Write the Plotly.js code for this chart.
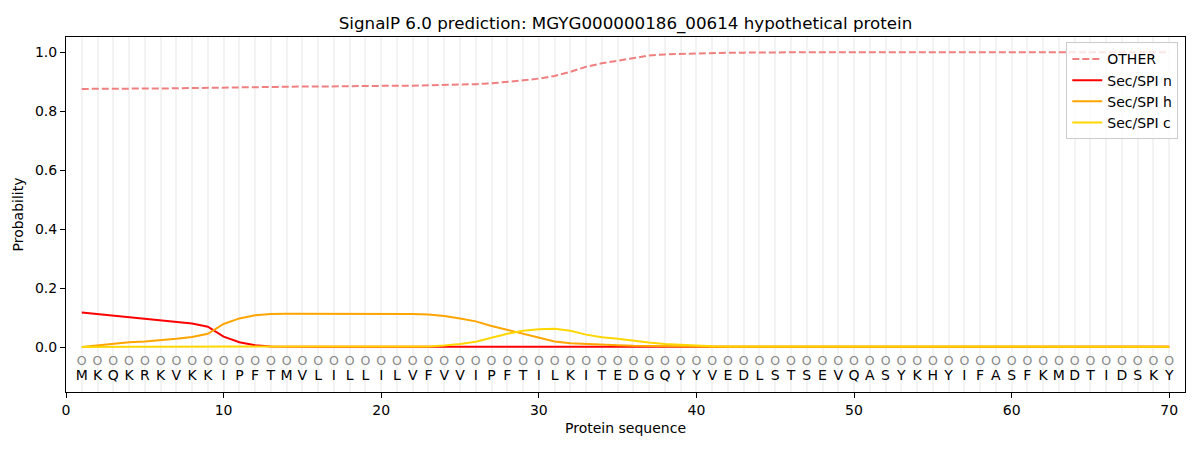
<!DOCTYPE html>
<html>
<head>
<meta charset="utf-8">
<script src="https://cdn.plot.ly/plotly-3.0.1.min.js"></script>
<style>
  html, body { margin: 0; padding: 0; background: #fff; }
  #chart { width: 1200px; height: 450px; }
</style>
</head>
<body>
<div id="chart"></div>
<script>
// residues of the protein, one per position 1..70
const sequence = "MKQKRKVKKIPFTMVLILLILVFVVIPFTILKITEDGQYYVEDLSTSEVQASYKHYIFASFKMDTIDSKY".split("");
const positions = sequence.map((_, i) => i + 1);

// per-residue class probabilities
const other = [
  0.875, 0.875, 0.875, 0.876, 0.876, 0.877, 0.877, 0.878, 0.879, 0.880,
  0.880, 0.881, 0.882, 0.882, 0.883, 0.883, 0.884, 0.884, 0.885, 0.885,
  0.886, 0.886, 0.887, 0.888, 0.889, 0.891, 0.894, 0.898, 0.904, 0.910,
  0.919, 0.933, 0.950, 0.962, 0.971, 0.981, 0.988, 0.992, 0.994, 0.996,
  0.997, 0.998, 0.998, 0.999, 0.999, 0.999, 0.999, 0.999, 0.999, 0.999,
  0.999, 0.999, 0.999, 0.999, 0.999, 0.999, 0.999, 0.999, 0.999, 0.999,
  0.999, 0.999, 0.999, 0.999, 0.999, 0.999, 0.999, 0.999, 0.999, 0.999
];
const secN = [
  0.117, 0.112, 0.106, 0.101, 0.097, 0.092, 0.087, 0.080, 0.069, 0.035,
  0.016, 0.006, 0.002, 0.001, 0.001, 0.001, 0.001, 0.001, 0.001, 0.001,
  0.001, 0.001, 0.001, 0.001, 0.001, 0.001, 0.001, 0.001, 0.001, 0.001,
  0.001, 0.001, 0.001, 0.001, 0.001, 0.001, 0.001, 0.001, 0.001, 0.001,
  0.001, 0.001, 0.001, 0.001, 0.001, 0.001, 0.001, 0.001, 0.001, 0.001,
  0.001, 0.001, 0.001, 0.001, 0.001, 0.001, 0.001, 0.001, 0.001, 0.001,
  0.001, 0.001, 0.001, 0.001, 0.001, 0.001, 0.001, 0.001, 0.001, 0.001
];
const secH = [
  0.000, 0.006, 0.011, 0.016, 0.019, 0.023, 0.028, 0.034, 0.045, 0.078,
  0.097, 0.108, 0.112, 0.113, 0.113, 0.113, 0.113, 0.113, 0.113, 0.113,
  0.112, 0.112, 0.110, 0.105, 0.097, 0.087, 0.071, 0.058, 0.044, 0.030,
  0.019, 0.013, 0.010, 0.008, 0.006, 0.004, 0.003, 0.002, 0.002, 0.001,
  0.001, 0.001, 0.001, 0.001, 0.001, 0.001, 0.001, 0.001, 0.001, 0.001,
  0.001, 0.001, 0.001, 0.001, 0.001, 0.001, 0.001, 0.001, 0.001, 0.001,
  0.001, 0.001, 0.001, 0.001, 0.001, 0.001, 0.001, 0.001, 0.001, 0.001
];
const secC = [
  0.000, 0.001, 0.001, 0.001, 0.001, 0.001, 0.001, 0.001, 0.001, 0.001,
  0.001, 0.001, 0.001, 0.001, 0.001, 0.001, 0.001, 0.001, 0.001, 0.001,
  0.001, 0.001, 0.002, 0.005, 0.010, 0.018, 0.032, 0.045, 0.055, 0.060,
  0.062, 0.055, 0.042, 0.033, 0.028, 0.021, 0.015, 0.010, 0.007, 0.005,
  0.003, 0.002, 0.002, 0.001, 0.001, 0.001, 0.001, 0.001, 0.001, 0.001,
  0.001, 0.001, 0.001, 0.001, 0.001, 0.001, 0.001, 0.001, 0.001, 0.001,
  0.001, 0.001, 0.001, 0.001, 0.001, 0.001, 0.001, 0.001, 0.001, 0.001
];

const font = "DejaVu Sans, sans-serif";

let trace_other = {
    name: "OTHER", x: positions, y: other,
    type: "scatter", mode: "lines",
    line: { color: "#f08080", width: 2, dash: "7px,3px" },
};
let trace_n = {
    name: "Sec/SPI n", x: positions, y: secN,
    type: "scatter", mode: "lines",
    line: { color: "#ff0000", width: 2 },
};
let trace_h = {
    name: "Sec/SPI h", x: positions, y: secH,
    type: "scatter", mode: "lines",
    line: { color: "#ffa500", width: 2 },
};
let trace_c = {
    name: "Sec/SPI c", x: positions, y: secC,
    type: "scatter", mode: "lines",
    line: { color: "#ffd700", width: 2 },
};
// the "O" label row and the residue letters under the curves
let trace_marks = {
    x: positions, y: positions.map(() => -0.05),
    text: positions.map(() => "O"),
    type: "scatter", mode: "text", showlegend: false, hoverinfo: "skip",
    textfont: { family: font, size: 12.5, color: "#888888" },
};
let trace_letters = {
    x: positions, y: positions.map(() => -0.1),
    text: sequence,
    type: "scatter", mode: "text", showlegend: false, hoverinfo: "skip",
    textfont: { family: font, size: 14, color: "#000000" },
};

let layout = {
    autosize: false,
    width: 1200,
    height: 450,
    margin: { l: 66, r: 15, t: 37, b: 58, pad: 0 },
    paper_bgcolor: "#ffffff",
    plot_bgcolor: "#ffffff",
    font: { family: font, size: 14, color: "#000" },
    title: {
        text: "SignalP 6.0 prediction: MGYG000000186_00614 hypothetical protein",
        font: { family: font, size: 16.7, color: "#000" },
        x: 0.5, xref: "paper", y: 0.948, yanchor: "middle",
    },
    showlegend: true,
    legend: {
        x: 0.994, xanchor: "right", y: 0.985, yanchor: "top",
        bgcolor: "rgba(255,255,255,0.8)", bordercolor: "#cccccc", borderwidth: 1,
        font: { family: font, size: 14 },
        tracegroupgap: 0,
    },
    xaxis: {
        range: [0, 71],
        tickmode: "array", tickvals: [0, 10, 20, 30, 40, 50, 60, 70],
        ticks: "outside", ticklen: 5, tickcolor: "#000",
        showline: true, linecolor: "#000", linewidth: 1, mirror: true,
        showgrid: false, zeroline: false,
        minor: { tickmode: "array", tickvals: positions, showgrid: true, gridcolor: "#f3f3f3", gridwidth: 2, ticks: "" },
        title: { text: "Protein sequence", font: { family: font, size: 14 }, standoff: 6 },
        tickfont: { family: font, size: 14 },
    },
    yaxis: {
        range: [-0.1525, 1.051],
        tickvals: [0, 0.2, 0.4, 0.6, 0.8, 1.0], tickformat: ".1f",
        ticks: "outside", ticklen: 5, tickcolor: "#000",
        showline: true, linecolor: "#000", linewidth: 1, mirror: true,
        showgrid: false, zeroline: false,
        title: { text: "Probability", font: { family: font, size: 14 }, standoff: 8 },
        tickfont: { family: font, size: 14 },
    },
};

let config = { responsive: false, displayModeBar: false, staticPlot: true };
let series = [trace_other, trace_n, trace_h, trace_c, trace_marks, trace_letters];
Plotly.newPlot("chart", series, layout, config);
</script>
</body>
</html>
